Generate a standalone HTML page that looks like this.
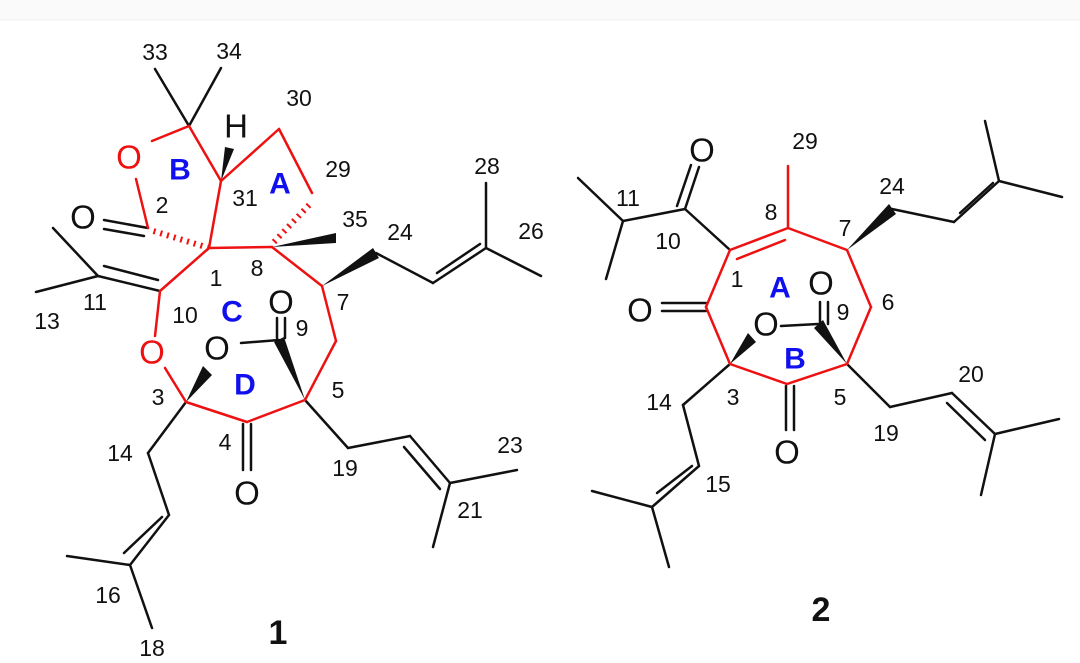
<!DOCTYPE html>
<html><head><meta charset="utf-8"><style>
html,body{margin:0;padding:0;background:#fff;}
svg{display:block;}
text{font-family:"Liberation Sans",Arial,sans-serif;}
.n{font-size:23px;fill:#111;text-anchor:middle;dominant-baseline:central;}
.o{font-size:33px;text-anchor:middle;dominant-baseline:central;}
.r{font-size:30px;font-weight:bold;fill:#1010ee;text-anchor:middle;dominant-baseline:central;}
</style></head><body>
<svg width="1080" height="663" viewBox="0 0 1080 663">
<rect width="1080" height="20" fill="#fafafa"/>
<line x1="0" y1="20" x2="1080" y2="20" stroke="#f0f0f0"/>
<g stroke="#111" stroke-width="2.5" fill="none" stroke-linecap="round">
<line x1="189" y1="126" x2="155" y2="69"/><line x1="189" y1="126" x2="221" y2="68"/>
<line x1="148" y1="228" x2="104" y2="220"/><line x1="144" y1="236" x2="104" y2="229"/>
<line x1="160" y1="291" x2="98" y2="276"/><line x1="158" y1="280" x2="104" y2="266"/>
<line x1="98" y1="276" x2="53" y2="228"/><line x1="98" y1="276" x2="36" y2="292"/>
<line x1="376" y1="253" x2="433" y2="283"/><line x1="433" y1="283" x2="486" y2="248"/><line x1="437" y1="273" x2="480" y2="244"/>
<line x1="486" y1="248" x2="486" y2="183"/><line x1="486" y1="248" x2="541" y2="276"/>
<line x1="241" y1="343" x2="279" y2="340"/>
<line x1="277" y1="338" x2="277" y2="318"/><line x1="285" y1="338" x2="285" y2="318"/>
<line x1="243" y1="424" x2="243" y2="470"/><line x1="251" y1="424" x2="251" y2="470"/>
<line x1="186" y1="402" x2="148" y2="453"/><line x1="148" y1="453" x2="169" y2="515"/><line x1="169" y1="515" x2="130" y2="565"/><line x1="162" y1="517" x2="124" y2="553"/>
<line x1="130" y1="565" x2="67" y2="556"/><line x1="130" y1="565" x2="152" y2="628"/>
<line x1="305" y1="400" x2="348" y2="448"/><line x1="348" y1="448" x2="410" y2="436"/><line x1="410" y1="436" x2="450" y2="483"/><line x1="404" y1="447" x2="440" y2="489"/>
<line x1="450" y1="483" x2="517" y2="470"/><line x1="450" y1="483" x2="433" y2="547"/>
</g>
<g fill="#111">
<polygon points="221,181 225,147 234,149"/>
<polygon points="272,247 336,233 336,243"/>
<polygon points="322,286 373,248 379,258"/>
<polygon points="186,402 203,366 212,375"/>
<polygon points="305,400 274,342 284,337"/>
</g>
<g stroke="#ee1111" stroke-width="2.5" fill="none" stroke-linecap="round">
<line x1="189" y1="126" x2="152" y2="141"/><line x1="189" y1="126" x2="221" y2="181"/>
<line x1="221" y1="181" x2="279" y2="129"/><line x1="279" y1="129" x2="312" y2="193"/>
<line x1="221" y1="181" x2="209" y2="248"/><line x1="209" y1="248" x2="272" y2="247"/>
<line x1="136" y1="179" x2="148" y2="228"/>
<line x1="272" y1="247" x2="322" y2="286"/><line x1="209" y1="248" x2="160" y2="291"/>
<line x1="160" y1="291" x2="155" y2="336"/><line x1="165" y1="368" x2="186" y2="402"/>
<line x1="186" y1="402" x2="247" y2="422"/><line x1="247" y1="422" x2="305" y2="400"/>
<line x1="322" y1="286" x2="336" y2="341"/><line x1="336" y1="341" x2="305" y2="400"/>
<line x1="209" y1="248" x2="150" y2="230" stroke-width="6" stroke-dasharray="2 5" stroke-linecap="butt"/>
<line x1="274" y1="242" x2="311" y2="203" stroke-width="6" stroke-dasharray="2 5" stroke-linecap="butt"/>
</g>
<text class="n" x="155" y="52">33</text><text class="n" x="229" y="51">34</text>
<text class="n" x="299" y="98">30</text><text class="o" x="236" y="126" fill="#111">H</text>
<text class="o" x="129" y="157" fill="#ee1111">O</text><text class="r" x="180" y="170">B</text>
<text class="n" x="338" y="169">29</text><text class="n" x="245" y="198">31</text>
<text class="r" x="280" y="184">A</text><text class="n" x="355" y="219">35</text>
<text class="n" x="400" y="232">24</text><text class="n" x="487" y="166">28</text>
<text class="n" x="531" y="231">26</text><text class="o" x="83" y="217" fill="#111">O</text>
<text class="n" x="162" y="205">2</text><text class="n" x="216" y="278">1</text>
<text class="n" x="257" y="268">8</text><text class="n" x="95" y="302">11</text>
<text class="n" x="185" y="315">10</text><text class="r" x="232" y="312">C</text>
<text class="n" x="47" y="321">13</text><text class="o" x="281" y="302" fill="#111">O</text>
<text class="n" x="343" y="302">7</text><text class="n" x="302" y="328">9</text>
<text class="o" x="152" y="352" fill="#ee1111">O</text><text class="o" x="217" y="348" fill="#111">O</text>
<text class="r" x="245" y="385">D</text><text class="n" x="158" y="397">3</text>
<text class="n" x="338" y="390">5</text><text class="n" x="225" y="442">4</text>
<text class="o" x="247" y="493" fill="#111">O</text>
<text class="n" x="120" y="453">14</text><text class="n" x="345" y="468">19</text>
<text class="n" x="510" y="445">23</text><text class="n" x="470" y="510">21</text>
<text class="n" x="108" y="595">16</text><text class="n" x="152" y="648">18</text>
<text x="278" y="633" font-size="34" font-weight="bold" text-anchor="middle" dominant-baseline="central" fill="#111">1</text>

<g stroke="#111" stroke-width="2.5" fill="none" stroke-linecap="round">
<line x1="730" y1="250" x2="685" y2="209"/>
<line x1="685" y1="209" x2="699" y2="167"/><line x1="677" y1="206" x2="691" y2="165"/>
<line x1="685" y1="209" x2="623" y2="221"/><line x1="623" y1="221" x2="578" y2="178"/><line x1="623" y1="221" x2="606" y2="279"/>
<line x1="706" y1="303" x2="662" y2="303"/><line x1="706" y1="311" x2="662" y2="311"/>
<line x1="781" y1="326" x2="818" y2="324"/>
<line x1="820" y1="324" x2="820" y2="302"/><line x1="828" y1="324" x2="828" y2="302"/>
<line x1="786" y1="386" x2="786" y2="430"/><line x1="794" y1="386" x2="794" y2="430"/>
<line x1="892" y1="209" x2="954" y2="222"/><line x1="954" y1="222" x2="999" y2="181"/><line x1="960" y1="213" x2="993" y2="183"/>
<line x1="999" y1="181" x2="985" y2="121"/><line x1="999" y1="181" x2="1062" y2="197"/>
<line x1="730" y1="364" x2="683" y2="405"/><line x1="683" y1="405" x2="699" y2="466"/><line x1="699" y1="466" x2="652" y2="507"/><line x1="692" y1="466" x2="657" y2="493"/>
<line x1="652" y1="507" x2="592" y2="491"/><line x1="652" y1="507" x2="669" y2="567"/>
<line x1="847" y1="364" x2="890" y2="407"/><line x1="890" y1="407" x2="952" y2="393"/><line x1="952" y1="393" x2="995" y2="434"/><line x1="947" y1="403" x2="985" y2="440"/>
<line x1="995" y1="434" x2="1059" y2="419"/><line x1="995" y1="434" x2="981" y2="495"/>
</g>
<g fill="#111">
<polygon points="730,364 748,333 756,342"/>
<polygon points="847,364 814,328 823,320"/>
<polygon points="847,250 889,204 896,214"/>
</g>
<g stroke="#ee1111" stroke-width="2.5" fill="none" stroke-linecap="round">
<line x1="730" y1="250" x2="788" y2="228"/><line x1="737" y1="259" x2="785" y2="240"/>
<line x1="788" y1="228" x2="788" y2="166"/>
<line x1="788" y1="228" x2="847" y2="250"/><line x1="847" y1="250" x2="871" y2="307"/>
<line x1="871" y1="307" x2="847" y2="364"/><line x1="847" y1="364" x2="787" y2="384"/>
<line x1="787" y1="384" x2="730" y2="364"/><line x1="730" y1="364" x2="706" y2="307"/>
<line x1="706" y1="307" x2="730" y2="250"/>
</g>
<text class="o" x="702" y="150" fill="#111">O</text>
<text class="o" x="640" y="310" fill="#111">O</text>
<text class="o" x="766" y="324" fill="#111">O</text>
<text class="o" x="821" y="283" fill="#111">O</text>
<text class="o" x="787" y="452" fill="#111">O</text>
<text class="n" x="805" y="141">29</text><text class="n" x="892" y="186">24</text>
<text class="n" x="628" y="198">11</text><text class="n" x="771" y="212">8</text>
<text class="n" x="668" y="241">10</text><text class="n" x="845" y="228">7</text>
<text class="n" x="737" y="279">1</text><text class="r" x="780" y="288">A</text>
<text class="n" x="888" y="302">6</text><text class="n" x="843" y="312">9</text>
<text class="r" x="795" y="359">B</text><text class="n" x="971" y="374">20</text>
<text class="n" x="659" y="402">14</text><text class="n" x="733" y="397">3</text>
<text class="n" x="840" y="397">5</text><text class="n" x="886" y="433">19</text>
<text class="n" x="718" y="484">15</text>
<text x="821" y="610" font-size="34" font-weight="bold" text-anchor="middle" dominant-baseline="central" fill="#111">2</text>
</svg>
</body></html>
